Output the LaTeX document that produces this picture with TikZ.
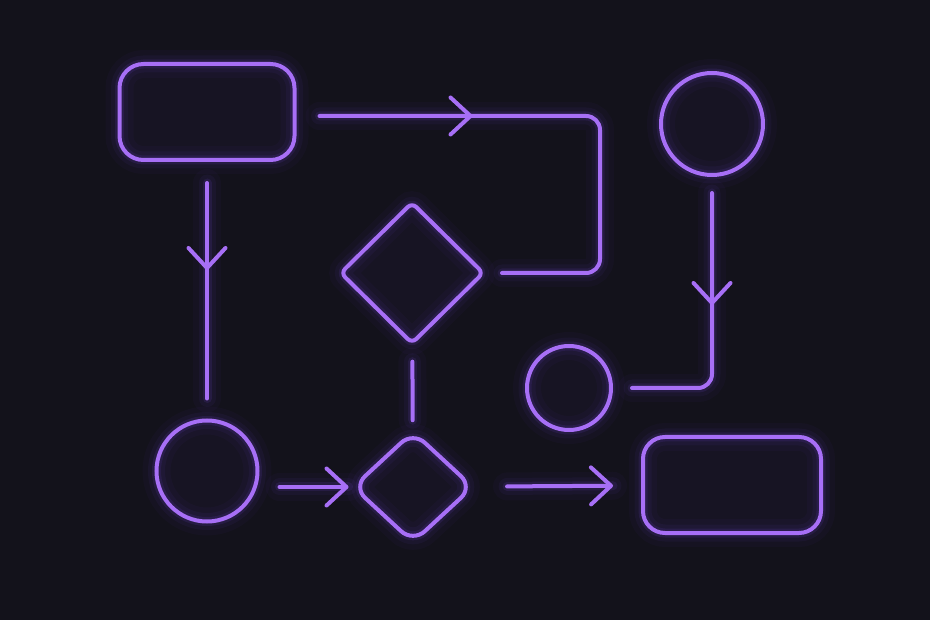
\documentclass[tikz,border=0pt]{standalone}
\usetikzlibrary{shapes.geometric,arrows.meta,decorations.markings}
\definecolor{bg}{HTML}{13121B}
\definecolor{neon}{HTML}{A76FF6}
\definecolor{glow}{HTML}{7A48E8}

\begin{document}
\begin{tikzpicture}[x=1pt,y=-1pt,color=neon,line width=4pt,line cap=round,
  vtip/.tip={Straight Barb[length=20pt,width=37pt,round]},
  glowy/.style={preaction={draw=glow,line width=28pt,draw opacity=0.035,arrows=-},
                preaction={draw=glow,line width=17pt,draw opacity=0.06,arrows=-},
                preaction={draw=glow,line width=9pt,draw opacity=0.12,arrows=-}},
  lit/.style={glowy,draw,fill=glow,fill opacity=0.045,inner sep=0pt},
  box/.style={lit,rectangle,rounded corners=24pt},
  ring/.style={lit,circle},
  choice/.style={lit,diamond,rounded corners=#1},
  choice/.default=6pt,
  flow/.style={glowy,draw,rounded corners=14pt},
  mid/.style={postaction={decorate,decoration={markings,
      mark=at position #1 with {\arrow{vtip}}}}}]
  \fill[bg] (0,0) rectangle (930,620);
  \useasboundingbox (0,0) rectangle (930,620);

  \node[box,minimum width=175pt,minimum height=96pt] (start) at (207,112) {};
  \node[box,rounded corners=22pt,minimum width=178pt,minimum height=96pt] (stop) at (732,485) {};
  \node[ring,minimum size=102pt] (c1) at (712,124) {};
  \node[ring,minimum size=84pt] (c2) at (569,388) {};
  \node[ring,minimum size=101pt] (c3) at (207,471) {};
  \node[choice,minimum width=144pt,minimum height=142pt] (d1) at (412,273) {};
  \node[choice=16pt,minimum width=121pt,minimum height=112pt] (d2) at (413,487) {};

  \coordinate (k1) at (600,116);
  \draw[flow,mid=176pt,shorten <=23pt,shorten >=16pt] (start.east |- k1) -- (k1) |- (d1.east);
  \draw[flow,mid=108pt,shorten <=21pt,shorten >=20pt] (start) -- (c3);
  \draw[flow,mid=128pt,shorten <=16pt,shorten >=19pt] (c1) |- (c2);
  \draw[flow,shorten <=16pt,shorten >=9pt] (d1) -- (d2);
  \draw[flow,-{vtip},shorten <=20pt,shorten >=2pt] (c3.east |- d2.west) -- (d2.west);
  \draw[flow,-{vtip},shorten <=32pt,shorten >=28pt] (d2) -- (stop);
\end{tikzpicture}
\end{document}
